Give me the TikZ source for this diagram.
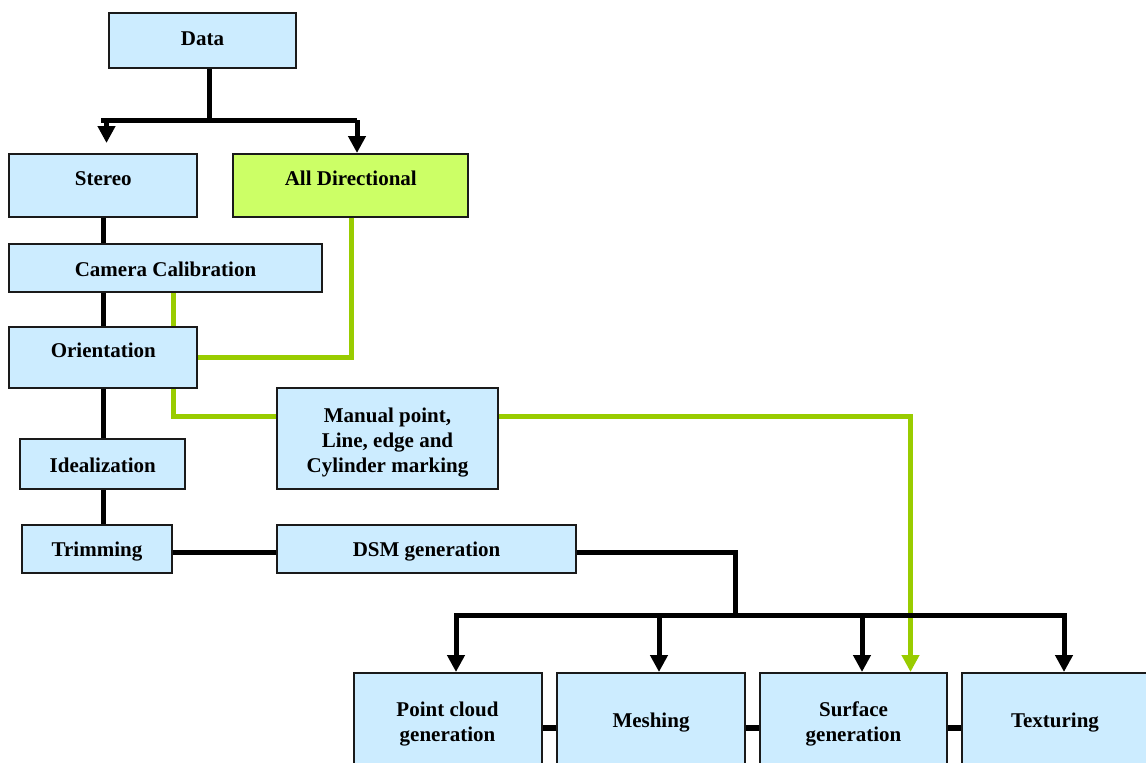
\documentclass[tikz,border=0pt]{standalone}
\usepackage{fontspec}
\setmainfont{Liberation Serif}
\usetikzlibrary{arrows.meta,fit}
\definecolor{boxblue}{RGB}{204,236,255}
\definecolor{boxgreen}{RGB}{204,255,102}
\definecolor{linkgreen}{RGB}{153,204,0}
\definecolor{edge}{RGB}{26,26,26}
\tikzset{
  box/.style={draw=edge, line width=2pt, fill=boxblue, rectangle, inner sep=0pt},
  gbox/.style={box, fill=boxgreen},
  lbl/.style={font=\bfseries\fontsize{21}{25}\selectfont, inner sep=0pt, anchor=base, align=center},
  bk/.style={line width=5pt, draw=black},
  gn/.style={line width=5pt, draw=linkgreen},
  tip/.style={-{Triangle[width=17pt,length=17pt]}},
}
\begin{document}
\begin{tikzpicture}[x=1pt,y=-1pt]
\useasboundingbox (0,0) rectangle (1146,763);
\clip (0,0) rectangle (1146,763);

% boxes
\node[box,  fit={(109,13.3) (295.7,68.3)}]   (data)   {};
\node[box,  fit={(9.3,154) (197.3,216.7)}]   (stereo) {};
\node[gbox, fit={(233.3,154) (468.3,216.7)}] (alldir) {};
\node[box,  fit={(9.3,244) (321.7,292)}]     (camera) {};
\node[box,  fit={(9.3,326.7) (197.3,388.3)}] (orient) {};
\node[box,  fit={(277.3,388.3) (497.8,489)}] (manual) {};
\node[box,  fit={(20.4,439) (185.2,489)}]    (ideal)  {};
\node[box,  fit={(22.3,525.3) (172,572.7)}]  (trim)   {};
\node[box,  fit={(277.3,525.3) (575.9,572.7)}] (dsm)  {};
\node[box,  fit={(354,673) (541.5,783)}]     (pc)     {};
\node[box,  fit={(557,673) (744.6,783)}]     (mesh)   {};
\node[box,  fit={(760,673) (947,783)}]       (surf)   {};
\node[box,  fit={(961.5,673) (1152,783)}]    (tex)    {};

% labels (base = baseline of the last line)
\node[lbl] (data-t)   at (202.5,45)  {Data};
\node[lbl] (stereo-t) at (103.3,185) {Stereo};
\node[lbl] (alldir-t) at (350.8,185) {All Directional};
\node[lbl] (camera-t) at (165.5,276) {Camera Calibration};
\node[lbl] (orient-t) at (103.3,357) {Orientation};
\node[lbl] (manual-t) at (387.5,472) {Manual point,\\Line, edge and\\Cylinder marking};
\node[lbl] (ideal-t)  at (102.8,472) {Idealization};
\node[lbl] (trim-t)   at (97,556)    {Trimming};
\node[lbl] (dsm-t)    at (426.6,556) {DSM generation};
\node[lbl] (pc-t)     at (447.5,741) {Point cloud\\generation};
\node[lbl] (mesh-t)   at (651,727)   {Meshing};
\node[lbl] (surf-t)   at (853.5,741) {Surface\\generation};
\node[lbl] (tex-t)    at (1055,727)  {Texturing};

% split below Data
\coordinate (d0) at (209,120);
\coordinate (busL) at (101,120);
\coordinate (busR) at (357,120);
\coordinate (stereoIn) at (106.5,143);
\draw[bk] (data.south -| d0) -- (d0);
\draw[bk] (busL) -- (busR);
\draw[bk,tip] (stereoIn |- busL) -- (stereoIn);
\draw[bk,tip] (busR) -- (busR |- alldir.north);

% main spine on the left
\coordinate (spine) at (103.3,0);
\draw[bk] (stereo.south -| spine) -- (camera.north -| spine);
\draw[bk] (camera.south -| spine) -- (orient.north -| spine);
\draw[bk] (orient.south -| spine) -- (ideal.north -| spine);
\draw[bk] (ideal.south -| spine) -- (trim.north -| spine);
\draw[bk] ([yshift=-3pt]trim.east) -- ([yshift=-3pt]trim.east -| dsm.west);

% green links
\coordinate (g1) at (173.3,0);
\coordinate (g2) at (351.5,357);
\coordinate (g3) at (173.3,416);
\coordinate (g4) at (910.5,416);
\draw[gn] (camera.south -| g1) -- (orient.north -| g1);
\draw[gn] (alldir.south -| g2) -- (g2) -- (orient.east |- g2);
\draw[gn] (orient.south -| g3) -- (g3) -- (manual.west |- g3);
\draw[gn,tip] (manual.east |- g4) -- (g4) -- (g4 |- surf.north);

% DSM to the four output stages
\coordinate (b0) at (735.5,552);
\coordinate (b1) at (735.5,615);
\coordinate (a1) at (456,615);
\coordinate (a2) at (659,615);
\coordinate (a3) at (862,615);
\coordinate (a4) at (1064,615);
\draw[bk] (dsm.east |- b0) -- (b0) -- (b1);
\draw[bk,line cap=rect] (a1) -- (a4);
\draw[bk,tip] (a1) -- (a1 |- pc.north);
\draw[bk,tip] (a2) -- (a2 |- mesh.north);
\draw[bk,tip] (a3) -- (a3 |- surf.north);
\draw[bk,tip] (a4) -- (a4 |- tex.north);

% links between the output stages
\draw[bk,line width=6pt] (pc.east) -- (mesh.west);
\draw[bk,line width=6pt] (mesh.east) -- (surf.west);
\draw[bk,line width=6pt] (surf.east) -- (tex.west);
\end{tikzpicture}
\end{document}
